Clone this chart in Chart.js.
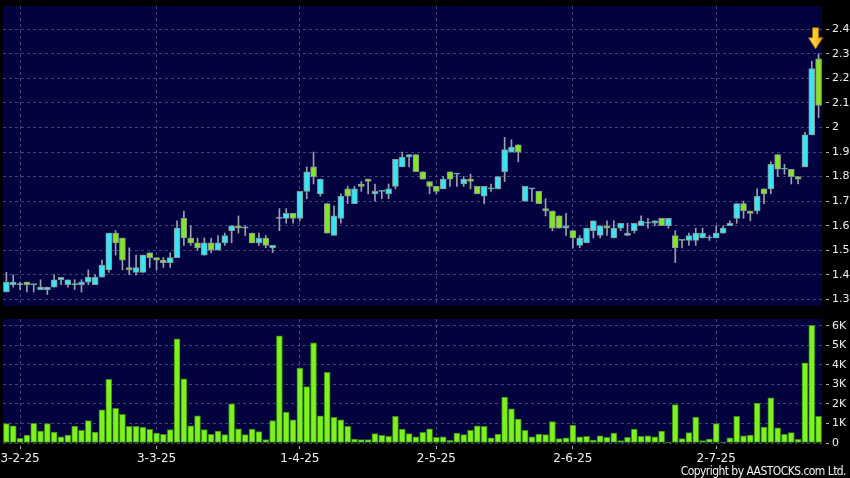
<!DOCTYPE html>
<html>
<head>
<meta charset="utf-8">
<script src="https://cdn.jsdelivr.net/npm/chart.js@4"></script>
<style>
  html, body { margin: 0; padding: 0; background: #000; }
  #wrap { position: relative; width: 850px; height: 478px; overflow: hidden; background: #000; }
  #priceChart { position: absolute; left: 0; top: 0; }
  #volChart { position: absolute; left: 0; top: 312px; }
  #copy { position: absolute; right: 4px; top: 465px; color: #f0f0f0; font: 12px "DejaVu Sans Condensed", "DejaVu Sans", sans-serif; letter-spacing: -0.55px; line-height: 12px; white-space: nowrap; }
</style>
</head>
<body>
<div id="wrap">
  <canvas id="priceChart" width="850" height="312"></canvas>
  <canvas id="volChart" width="850" height="166"></canvas>
  <div id="copy">Copyright by AASTOCKS.com Ltd.</div>
</div>
<script>
// daily OHLC + volume, 120 sessions (late Jan 2025 .. 23 Jul 2025)
const openPrice = [
  1.33,1.36,1.36,1.37,1.36,1.34,1.34,1.35,1.38,1.36,
  1.36,1.36,1.37,1.36,1.39,1.42,1.57,1.55,1.43,1.41,
  1.41,1.49,1.47,1.46,1.45,1.47,1.63,1.55,1.53,1.48,
  1.53,1.50,1.53,1.58,1.60,1.59,1.57,1.53,1.55,1.51,
  1.63,1.63,1.65,1.63,1.74,1.84,1.73,1.69,1.56,1.63,
  1.75,1.69,1.77,1.79,1.73,1.74,1.73,1.76,1.84,1.88,
  1.89,1.82,1.78,1.76,1.75,1.82,1.81,1.77,1.79,1.76,
  1.72,1.75,1.75,1.82,1.90,1.93,1.70,1.75,1.74,1.67,
  1.66,1.64,1.59,1.58,1.52,1.53,1.58,1.56,1.60,1.55,
  1.59,1.56,1.58,1.60,1.61,1.61,1.63,1.60,1.56,1.54,
  1.54,1.54,1.55,1.55,1.55,1.57,1.60,1.63,1.69,1.66,
  1.66,1.75,1.75,1.89,1.83,1.83,1.80,1.84,1.97,2.28
];
const highPrice = [
  1.41,1.40,1.37,1.37,1.36,1.38,1.35,1.40,1.39,1.38,
  1.38,1.38,1.42,1.40,1.46,1.57,1.58,1.55,1.51,1.48,
  1.48,1.49,1.47,1.47,1.49,1.62,1.66,1.60,1.55,1.55,
  1.55,1.56,1.57,1.60,1.64,1.60,1.57,1.57,1.56,1.52,
  1.67,1.67,1.65,1.74,1.84,1.90,1.79,1.69,1.68,1.73,
  1.76,1.76,1.78,1.79,1.77,1.74,1.77,1.87,1.90,1.89,
  1.89,1.82,1.78,1.76,1.80,1.82,1.81,1.80,1.81,1.76,
  1.76,1.77,1.80,1.96,1.95,1.93,1.76,1.75,1.74,1.71,
  1.66,1.64,1.65,1.58,1.56,1.59,1.62,1.60,1.62,1.62,
  1.61,1.61,1.61,1.64,1.63,1.62,1.63,1.63,1.58,1.54,
  1.57,1.59,1.59,1.56,1.60,1.60,1.62,1.69,1.70,1.66,
  1.75,1.75,1.86,1.89,1.85,1.83,1.80,1.98,2.27,2.30
];
const lowPrice = [
  1.33,1.35,1.34,1.33,1.33,1.34,1.32,1.35,1.36,1.35,
  1.34,1.33,1.36,1.36,1.39,1.41,1.48,1.42,1.40,1.40,
  1.41,1.43,1.42,1.43,1.43,1.47,1.52,1.52,1.50,1.48,
  1.49,1.50,1.52,1.53,1.57,1.56,1.53,1.52,1.51,1.49,
  1.58,1.61,1.61,1.62,1.71,1.77,1.72,1.57,1.56,1.61,
  1.69,1.69,1.74,1.73,1.70,1.71,1.71,1.75,1.84,1.84,
  1.82,1.79,1.73,1.73,1.75,1.76,1.76,1.76,1.75,1.73,
  1.69,1.74,1.75,1.78,1.90,1.86,1.70,1.70,1.69,1.64,
  1.58,1.59,1.56,1.51,1.51,1.53,1.55,1.55,1.56,1.55,
  1.58,1.56,1.57,1.60,1.59,1.60,1.60,1.59,1.45,1.51,
  1.52,1.52,1.55,1.54,1.55,1.57,1.60,1.61,1.63,1.62,
  1.65,1.69,1.73,1.80,1.81,1.77,1.77,1.84,1.97,2.04
];
const closePrice = [
  1.37,1.37,1.36,1.36,1.36,1.35,1.35,1.38,1.39,1.38,
  1.36,1.37,1.39,1.39,1.44,1.57,1.53,1.46,1.42,1.43,
  1.48,1.47,1.46,1.45,1.47,1.59,1.55,1.53,1.51,1.53,
  1.50,1.53,1.56,1.60,1.59,1.59,1.53,1.55,1.52,1.52,
  1.63,1.65,1.63,1.74,1.82,1.80,1.79,1.57,1.64,1.72,
  1.72,1.75,1.76,1.78,1.74,1.74,1.75,1.87,1.88,1.89,
  1.82,1.79,1.76,1.74,1.79,1.79,1.81,1.79,1.78,1.73,
  1.76,1.75,1.80,1.91,1.92,1.90,1.76,1.75,1.69,1.66,
  1.59,1.59,1.60,1.55,1.55,1.59,1.62,1.60,1.59,1.59,
  1.61,1.57,1.61,1.62,1.61,1.62,1.60,1.63,1.51,1.54,
  1.56,1.57,1.57,1.55,1.57,1.59,1.61,1.69,1.66,1.65,
  1.72,1.73,1.85,1.83,1.83,1.80,1.79,1.97,2.24,2.09
];
const volume = [
  990,880,240,410,1000,610,990,560,320,410,
  870,650,1140,560,1700,3250,1770,1460,850,850,
  800,700,510,440,680,5320,3280,880,1390,680,
  440,610,430,2000,730,430,710,580,170,1140,
  5480,1580,1190,3830,2890,5120,1390,3610,1310,1190,
  850,200,170,170,480,390,340,1360,710,480,
  310,540,730,290,320,140,510,430,650,880,
  850,270,460,2350,1750,1220,650,320,460,430,
  1090,220,270,920,320,340,150,370,290,510,
  120,290,710,340,370,320,610,50,1960,220,
  530,1330,120,200,990,50,260,1360,370,410,
  2040,820,2310,770,440,530,190,4100,6020,1360
];

// date labels on the shared x axis (bar index -> text)
const tickIdx = [2, 22, 43, 63, 83, 104];
const tickText = ['3-2-25', '3-3-25', '1-4-25', '2-5-25', '2-6-25', '2-7-25'];
const priceTicks = [1.3, 1.4, 1.5, 1.6, 1.7, 1.8, 1.9, 2.0, 2.1, 2.2, 2.3, 2.4];
const volTicks = [0, 1000, 2000, 3000, 4000, 5000, 6000];
const arrowIdx = 119;

const categories = openPrice.map((_, i) => {
  const k = tickIdx.indexOf(i);
  return k >= 0 ? tickText[k] : '';
});

const NAVY = '#02023f';
const GRID = 'rgba(120,120,170,0.55)';
const UP = '#3be4f2';
const DOWN = '#84e428';
const LABEL = '#eeeeee';

const plotBg = {
  id: 'plotBg',
  beforeDraw(chart) {
    const { ctx, chartArea: a } = chart;
    ctx.save();
    ctx.fillStyle = NAVY;
    ctx.fillRect(a.left, a.top, a.right - a.left, a.bottom - a.top);
    ctx.restore();
  }
};

// the yellow "latest" arrow above the last candle
const arrowMark = {
  id: 'arrowMark',
  afterDatasetsDraw(chart) {
    const { ctx } = chart;
    const x = chart.scales.x.getPixelForValue(arrowIdx) - 3;
    const tip = chart.scales.y.getPixelForValue(highPrice[arrowIdx]) - 5;
    ctx.save();
    const g = ctx.createLinearGradient(x - 7, 0, x + 7, 0);
    g.addColorStop(0, '#ffe860');
    g.addColorStop(1, '#f0a800');
    ctx.fillStyle = g;
    ctx.strokeStyle = '#a87000';
    ctx.lineWidth = 1;
    ctx.beginPath();
    ctx.moveTo(x - 3, tip - 21);
    ctx.lineTo(x + 3, tip - 21);
    ctx.lineTo(x + 3, tip - 11);
    ctx.lineTo(x + 7, tip - 11);
    ctx.lineTo(x, tip);
    ctx.lineTo(x - 7, tip - 11);
    ctx.lineTo(x - 3, tip - 11);
    ctx.closePath();
    ctx.fill();
    ctx.stroke();
    ctx.restore();
  }
};

const xGridColor = c => tickIdx.includes(c.index) ? GRID : 'transparent';

function yAxis(min, max, ticks, fmt) {
  return {
    position: 'right',
    min: min,
    max: max,
    afterBuildTicks: s => { s.ticks = ticks.map(v => ({ value: v })); },
    afterFit: s => { s.width = 28; s.paddingTop = 0; s.paddingBottom = 0; },
    ticks: { color: LABEL, font: { family: 'DejaVu Sans', size: 11 }, padding: 2, callback: fmt },
    grid: { color: GRID, tickColor: '#b8b8b8', tickLength: 8, tickBorderDash: [0, 4, 3, 20] },
    border: { display: false, dash: [3, 3] }
  };
}

const priceChart = new Chart(document.getElementById('priceChart'), {
  type: 'bar',
  data: {
    labels: categories,
    datasets: [
      {
        label: 'Body',
        data: openPrice.map((o, i) => [o, closePrice[i]]),
        backgroundColor: c => closePrice[c.dataIndex] >= openPrice[c.dataIndex] ? UP : DOWN,
        borderColor: '#8a9494',
        borderWidth: 1,
        borderSkipped: false,
        barThickness: 6,
        minBarLength: 1,
        grouped: false,
        order: 0
      },
      {
        label: 'Wick',
        data: lowPrice.map((l, i) => [l, highPrice[i]]),
        backgroundColor: '#9aa0aa',
        barThickness: 1,
        grouped: false,
        order: 1
      }
    ]
  },
  options: {
    responsive: false,
    animation: false,
    layout: { padding: { left: 3, top: 6, right: 0, bottom: 6 } },
    plugins: { legend: { display: false }, tooltip: { enabled: false } },
    scales: {
      x: {
        offset: true,
        ticks: { display: false },
        grid: { offset: false, color: xGridColor, drawTicks: false },
        border: { display: false, dash: [3, 3] },
        afterFit: s => { s.height = 0; s.paddingLeft = 0; s.paddingRight = 0; }
      },
      y: yAxis(1.273, 2.495, priceTicks, v => String(Number(v.toFixed(1))))
    }
  },
  plugins: [plotBg, arrowMark]
});

const volChart = new Chart(document.getElementById('volChart'), {
  type: 'bar',
  data: {
    labels: categories,
    datasets: [{
      label: 'Volume',
      data: volume,
      backgroundColor: '#7ef21e',
      borderColor: '#3d8a12',
      borderWidth: 1,
      borderSkipped: false,
      barThickness: 6
    }]
  },
  options: {
    responsive: false,
    animation: false,
    layout: { padding: { left: 3, top: 7, right: 0, bottom: 0 } },
    plugins: { legend: { display: false }, tooltip: { enabled: false } },
    scales: {
      x: {
        offset: true,
        ticks: { autoSkip: false, maxRotation: 0, color: LABEL, font: { family: 'DejaVu Sans', size: 12 }, padding: 3 },
        grid: { offset: false, color: xGridColor, tickColor: c => tickIdx.includes(c.index) ? '#b8b8b8' : 'transparent', tickLength: 6, tickBorderDash: [0, 3, 3, 20] },
        border: { display: false, dash: [3, 3] },
        afterFit: s => { s.height = 35; s.paddingLeft = 0; s.paddingRight = 0; }
      },
      y: yAxis(0, 6340, volTicks, v => v === 0 ? '0' : (v / 1000) + 'K')
    }
  },
  plugins: [plotBg]
});
</script>
</body>
</html>
